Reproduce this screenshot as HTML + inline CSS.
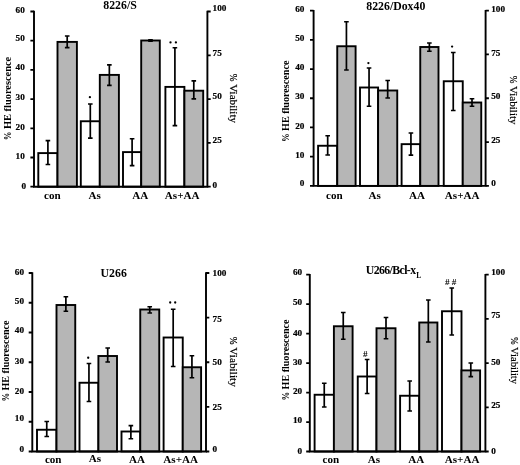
<!DOCTYPE html>
<html><head><meta charset="utf-8"><title>figure</title>
<style>html,body{margin:0;padding:0;background:#fff;}svg{display:block;}text{font-family:"Liberation Serif",serif;fill:#000;}.b{font-weight:bold;}</style></head><body>
<svg width="520" height="465" viewBox="0 0 520 465" style="filter:grayscale(1)">
<rect width="520" height="465" fill="#fff"/>
<g><rect x="38.3" y="153.1" width="19.20" height="33.60" fill="#fff" stroke="#000" stroke-width="1.9"/>
<rect x="57.5" y="41.9" width="19.40" height="144.80" fill="#b6b6b6" stroke="#000" stroke-width="1.9"/>
<rect x="80.8" y="121.25" width="19.00" height="65.45" fill="#fff" stroke="#000" stroke-width="1.9"/>
<rect x="99.8" y="74.9" width="19.10" height="111.80" fill="#b6b6b6" stroke="#000" stroke-width="1.9"/>
<rect x="123" y="152.1" width="18.20" height="34.60" fill="#fff" stroke="#000" stroke-width="1.9"/>
<rect x="141.2" y="40.5" width="18.60" height="146.20" fill="#b6b6b6" stroke="#000" stroke-width="1.9"/>
<rect x="165.4" y="86.9" width="19.00" height="99.80" fill="#fff" stroke="#000" stroke-width="1.9"/>
<rect x="184.4" y="90.7" width="18.80" height="96.00" fill="#b6b6b6" stroke="#000" stroke-width="1.9"/>
<path d="M47.90 140.6V164.5M45.60 140.6h4.6M45.60 164.5h4.6" stroke="#000" stroke-width="1.7" fill="none"/>
<path d="M67.20 36V47.6M64.90 36h4.6M64.90 47.6h4.6" stroke="#000" stroke-width="1.7" fill="none"/>
<path d="M90.30 104V138.1M88.00 104h4.6M88.00 138.1h4.6" stroke="#000" stroke-width="1.7" fill="none"/>
<path d="M109.35 64.9V85.4M107.05 64.9h4.6M107.05 85.4h4.6" stroke="#000" stroke-width="1.7" fill="none"/>
<path d="M132.10 138.75V165.6M129.80 138.75h4.6M129.80 165.6h4.6" stroke="#000" stroke-width="1.7" fill="none"/>
<path d="M150.50 39.9V41.1M148.20 39.9h4.6M148.20 41.1h4.6" stroke="#000" stroke-width="1.7" fill="none"/>
<path d="M174.90 47.75V125.6M172.60 47.75h4.6M172.60 125.6h4.6" stroke="#000" stroke-width="1.7" fill="none"/>
<path d="M193.80 80.9V98.9M191.50 80.9h4.6M191.50 98.9h4.6" stroke="#000" stroke-width="1.7" fill="none"/>
<path d="M34.0 10.8V186.7H207.4V10.8" stroke="#000" stroke-width="1.9" fill="none"/>
<path d="M34.0 11.50h-3.6M34.0 40.70h-3.6M34.0 69.90h-3.6M34.0 99.10h-3.6M34.0 128.30h-3.6M34.0 157.50h-3.6M34.0 186.70h-3.6M207.4 11.50h3.3M207.4 55.30h3.3M207.4 99.10h3.3M207.4 142.90h3.3M207.4 186.70h3.3" stroke="#000" stroke-width="1.8" fill="none"/>
<text class="b" x="24.8" y="12.80" font-size="9.2" stroke="#000" stroke-width="0.2" text-anchor="end">60</text>
<text class="b" x="24.8" y="41.00" font-size="9.2" stroke="#000" stroke-width="0.2" text-anchor="end">50</text>
<text class="b" x="24.8" y="70.40" font-size="9.2" stroke="#000" stroke-width="0.2" text-anchor="end">40</text>
<text class="b" x="24.8" y="99.60" font-size="9.2" stroke="#000" stroke-width="0.2" text-anchor="end">30</text>
<text class="b" x="24.8" y="129.60" font-size="9.2" stroke="#000" stroke-width="0.2" text-anchor="end">20</text>
<text class="b" x="24.8" y="159.00" font-size="9.2" stroke="#000" stroke-width="0.2" text-anchor="end">10</text>
<text class="b" x="26.2" y="189.10" font-size="9.2" stroke="#000" stroke-width="0.2" text-anchor="end">0</text>
<text class="b" x="212.6" y="10.80" font-size="9.2" stroke="#000" stroke-width="0.2">100</text>
<text class="b" x="212.6" y="56.30" font-size="9.2" stroke="#000" stroke-width="0.2">75</text>
<text class="b" x="212.6" y="98.70" font-size="9.2" stroke="#000" stroke-width="0.2">50</text>
<text class="b" x="212.6" y="143.00" font-size="9.2" stroke="#000" stroke-width="0.2">25</text>
<text class="b" x="212.6" y="188.40" font-size="9.2" stroke="#000" stroke-width="0.2">0</text>
<text class="b" x="52.4" y="198.75" font-size="11.1" text-anchor="middle">con</text>
<text class="b" x="94.7" y="198.75" font-size="11.1" text-anchor="middle">As</text>
<text class="b" x="140.3" y="198.75" font-size="11.1" text-anchor="middle">AA</text>
<text class="b" x="182.2" y="198.75" font-size="11.1" text-anchor="middle">As+AA</text>
<text class="b" x="120" y="9.3" font-size="11.8" text-anchor="middle">8226/S</text>
<text class="b" x="0" y="0" font-size="10.3" transform="translate(10.5 140.25) rotate(-90)"><tspan textLength="8.6" lengthAdjust="spacingAndGlyphs">%</tspan><tspan textLength="74.9" lengthAdjust="spacingAndGlyphs"> HE fluorescence</tspan></text>
<text x="0" y="0" font-size="11.2" stroke="#000" stroke-width="0.18" textLength="49.3" lengthAdjust="spacingAndGlyphs" transform="translate(229.85 73.85) rotate(90)"><tspan font-size="9.3">%</tspan> Viability</text>
<circle cx="89.9" cy="97.2" r="1.15" fill="#000"/>
<circle cx="170.5" cy="42.4" r="1.15" fill="#000"/>
<circle cx="175.9" cy="42.4" r="1.15" fill="#000"/></g>
<g><rect x="318.1" y="145.75" width="19.15" height="40.15" fill="#fff" stroke="#000" stroke-width="1.9"/>
<rect x="337.25" y="46.25" width="18.35" height="139.65" fill="#b6b6b6" stroke="#000" stroke-width="1.9"/>
<rect x="360" y="87.5" width="18.10" height="98.40" fill="#fff" stroke="#000" stroke-width="1.9"/>
<rect x="378.1" y="90.5" width="19.15" height="95.40" fill="#b6b6b6" stroke="#000" stroke-width="1.9"/>
<rect x="401.6" y="144.15" width="18.65" height="41.75" fill="#fff" stroke="#000" stroke-width="1.9"/>
<rect x="420.25" y="47" width="18.25" height="138.90" fill="#b6b6b6" stroke="#000" stroke-width="1.9"/>
<rect x="443.75" y="81.25" width="19.00" height="104.65" fill="#fff" stroke="#000" stroke-width="1.9"/>
<rect x="462.75" y="102.5" width="18.50" height="83.40" fill="#b6b6b6" stroke="#000" stroke-width="1.9"/>
<path d="M327.68 135.75V155M325.38 135.75h4.6M325.38 155h4.6" stroke="#000" stroke-width="1.7" fill="none"/>
<path d="M346.43 21.75V70M344.12 21.75h4.6M344.12 70h4.6" stroke="#000" stroke-width="1.7" fill="none"/>
<path d="M369.05 68V106.25M366.75 68h4.6M366.75 106.25h4.6" stroke="#000" stroke-width="1.7" fill="none"/>
<path d="M387.68 80.5V98M385.38 80.5h4.6M385.38 98h4.6" stroke="#000" stroke-width="1.7" fill="none"/>
<path d="M410.93 133V155.2M408.62 133h4.6M408.62 155.2h4.6" stroke="#000" stroke-width="1.7" fill="none"/>
<path d="M429.38 43V51.25M427.07 43h4.6M427.07 51.25h4.6" stroke="#000" stroke-width="1.7" fill="none"/>
<path d="M453.25 52.5V110.5M450.95 52.5h4.6M450.95 110.5h4.6" stroke="#000" stroke-width="1.7" fill="none"/>
<path d="M472.00 98.75V106.25M469.70 98.75h4.6M469.70 106.25h4.6" stroke="#000" stroke-width="1.7" fill="none"/>
<path d="M313.6 9.9V185.9H485.6V9.9" stroke="#000" stroke-width="1.9" fill="none"/>
<path d="M313.6 10.60h-3.6M313.6 39.82h-3.6M313.6 69.03h-3.6M313.6 98.25h-3.6M313.6 127.47h-3.6M313.6 156.68h-3.6M313.6 185.90h-3.6M485.6 10.60h3.3M485.6 54.43h3.3M485.6 98.25h3.3M485.6 142.08h3.3M485.6 185.90h3.3" stroke="#000" stroke-width="1.8" fill="none"/>
<text class="b" x="304.4" y="11.70" font-size="9.2" stroke="#000" stroke-width="0.2" text-anchor="end">60</text>
<text class="b" x="304.4" y="41.12" font-size="9.2" stroke="#000" stroke-width="0.2" text-anchor="end">50</text>
<text class="b" x="304.4" y="69.93" font-size="9.2" stroke="#000" stroke-width="0.2" text-anchor="end">40</text>
<text class="b" x="304.4" y="99.35" font-size="9.2" stroke="#000" stroke-width="0.2" text-anchor="end">30</text>
<text class="b" x="304.4" y="129.37" font-size="9.2" stroke="#000" stroke-width="0.2" text-anchor="end">20</text>
<text class="b" x="304.4" y="157.98" font-size="9.2" stroke="#000" stroke-width="0.2" text-anchor="end">10</text>
<text class="b" x="304.4" y="186.30" font-size="9.2" stroke="#000" stroke-width="0.2" text-anchor="end">0</text>
<text class="b" x="491.2" y="11.70" font-size="9.2" stroke="#000" stroke-width="0.2">100</text>
<text class="b" x="491.2" y="55.93" font-size="9.2" stroke="#000" stroke-width="0.2">75</text>
<text class="b" x="491.2" y="99.15" font-size="9.2" stroke="#000" stroke-width="0.2">50</text>
<text class="b" x="491.2" y="142.98" font-size="9.2" stroke="#000" stroke-width="0.2">25</text>
<text class="b" x="491.2" y="185.70" font-size="9.2" stroke="#000" stroke-width="0.2">0</text>
<text class="b" x="334.4" y="198.75" font-size="11.1" text-anchor="middle">con</text>
<text class="b" x="374.7" y="198.75" font-size="11.1" text-anchor="middle">As</text>
<text class="b" x="417.1" y="198.75" font-size="11.1" text-anchor="middle">AA</text>
<text class="b" x="462.2" y="198.75" font-size="11.1" text-anchor="middle">As+AA</text>
<text class="b" x="395.8" y="9.6" font-size="11.8" text-anchor="middle">8226/Dox40</text>
<text class="b" x="0" y="0" font-size="10.3" transform="translate(288.5 142.1) rotate(-90)"><tspan textLength="8.6" lengthAdjust="spacingAndGlyphs">%</tspan><tspan textLength="72.9" lengthAdjust="spacingAndGlyphs"> HE fluorescence</tspan></text>
<text x="0" y="0" font-size="11.2" stroke="#000" stroke-width="0.18" textLength="49" lengthAdjust="spacingAndGlyphs" transform="translate(510.4 75.65) rotate(90)"><tspan font-size="9.3">%</tspan> Viability</text>
<circle cx="368.4" cy="63.1" r="1.15" fill="#000"/>
<circle cx="452.1" cy="46.6" r="1.15" fill="#000"/></g>
<g><rect x="37" y="429.75" width="19.50" height="21.75" fill="#fff" stroke="#000" stroke-width="1.9"/>
<rect x="56.5" y="305" width="18.75" height="146.50" fill="#b6b6b6" stroke="#000" stroke-width="1.9"/>
<rect x="79.5" y="382.75" width="18.90" height="68.75" fill="#fff" stroke="#000" stroke-width="1.9"/>
<rect x="98.4" y="356" width="18.60" height="95.50" fill="#b6b6b6" stroke="#000" stroke-width="1.9"/>
<rect x="121.5" y="431.5" width="18.75" height="20.00" fill="#fff" stroke="#000" stroke-width="1.9"/>
<rect x="140.25" y="309.5" width="19.00" height="142.00" fill="#b6b6b6" stroke="#000" stroke-width="1.9"/>
<rect x="163.6" y="337.5" width="19.15" height="114.00" fill="#fff" stroke="#000" stroke-width="1.9"/>
<rect x="182.75" y="367.25" width="18.35" height="84.25" fill="#b6b6b6" stroke="#000" stroke-width="1.9"/>
<path d="M46.75 421.5V436.5M44.45 421.5h4.6M44.45 436.5h4.6" stroke="#000" stroke-width="1.7" fill="none"/>
<path d="M65.88 296.75V311.25M63.58 296.75h4.6M63.58 311.25h4.6" stroke="#000" stroke-width="1.7" fill="none"/>
<path d="M88.95 363.5V401.5M86.65 363.5h4.6M86.65 401.5h4.6" stroke="#000" stroke-width="1.7" fill="none"/>
<path d="M107.70 348V362M105.40 348h4.6M105.40 362h4.6" stroke="#000" stroke-width="1.7" fill="none"/>
<path d="M130.88 425.6V438.75M128.57 425.6h4.6M128.57 438.75h4.6" stroke="#000" stroke-width="1.7" fill="none"/>
<path d="M149.75 306.75V313M147.45 306.75h4.6M147.45 313h4.6" stroke="#000" stroke-width="1.7" fill="none"/>
<path d="M173.18 309.25V366.5M170.88 309.25h4.6M170.88 366.5h4.6" stroke="#000" stroke-width="1.7" fill="none"/>
<path d="M191.93 355.75V377.75M189.62 355.75h4.6M189.62 377.75h4.6" stroke="#000" stroke-width="1.7" fill="none"/>
<path d="M32.3 272.3V451.5H206.0V272.3" stroke="#000" stroke-width="1.9" fill="none"/>
<path d="M32.3 273.00h-3.6M32.3 302.75h-3.6M32.3 332.50h-3.6M32.3 362.25h-3.6M32.3 392.00h-3.6M32.3 421.75h-3.6M32.3 451.50h-3.6M206.0 273.00h3.3M206.0 317.62h3.3M206.0 362.25h3.3M206.0 406.88h3.3M206.0 451.50h3.3" stroke="#000" stroke-width="1.8" fill="none"/>
<text class="b" x="24.0" y="274.50" font-size="9.2" stroke="#000" stroke-width="0.2" text-anchor="end">60</text>
<text class="b" x="24.0" y="304.05" font-size="9.2" stroke="#000" stroke-width="0.2" text-anchor="end">50</text>
<text class="b" x="24.0" y="333.40" font-size="9.2" stroke="#000" stroke-width="0.2" text-anchor="end">40</text>
<text class="b" x="24.0" y="363.75" font-size="9.2" stroke="#000" stroke-width="0.2" text-anchor="end">30</text>
<text class="b" x="24.0" y="393.50" font-size="9.2" stroke="#000" stroke-width="0.2" text-anchor="end">20</text>
<text class="b" x="24.0" y="420.65" font-size="9.2" stroke="#000" stroke-width="0.2" text-anchor="end">10</text>
<text class="b" x="24.0" y="451.60" font-size="9.2" stroke="#000" stroke-width="0.2" text-anchor="end">0</text>
<text class="b" x="212.6" y="275.90" font-size="9.2" stroke="#000" stroke-width="0.2">100</text>
<text class="b" x="212.6" y="321.62" font-size="9.2" stroke="#000" stroke-width="0.2">75</text>
<text class="b" x="212.6" y="365.45" font-size="9.2" stroke="#000" stroke-width="0.2">50</text>
<text class="b" x="212.6" y="410.18" font-size="9.2" stroke="#000" stroke-width="0.2">25</text>
<text class="b" x="212.6" y="451.50" font-size="9.2" stroke="#000" stroke-width="0.2">0</text>
<text class="b" x="53.2" y="462.5" font-size="11.1" text-anchor="middle">con</text>
<text class="b" x="94.9" y="462.2" font-size="11.1" text-anchor="middle">As</text>
<text class="b" x="136.9" y="463.3" font-size="11.1" text-anchor="middle">AA</text>
<text class="b" x="180.7" y="463.3" font-size="11.1" text-anchor="middle">As+AA</text>
<text class="b" x="113.7" y="276.6" font-size="11.8" text-anchor="middle">U266</text>
<text class="b" x="0" y="0" font-size="10.2" transform="translate(8.6 401.6) rotate(-90)"><tspan textLength="8.6" lengthAdjust="spacingAndGlyphs">%</tspan><tspan textLength="72.4" lengthAdjust="spacingAndGlyphs"> HE fluorescence</tspan></text>
<text x="0" y="0" font-size="11.2" stroke="#000" stroke-width="0.18" textLength="50" lengthAdjust="spacingAndGlyphs" transform="translate(230.1 336.85) rotate(90)"><tspan font-size="9.3">%</tspan> Viability</text>
<circle cx="88.2" cy="357.75" r="1.15" fill="#000"/>
<circle cx="170.2" cy="302.5" r="1.15" fill="#000"/>
<circle cx="175.2" cy="302.5" r="1.15" fill="#000"/></g>
<g><rect x="314.6" y="394.75" width="19.30" height="56.75" fill="#fff" stroke="#000" stroke-width="1.9"/>
<rect x="333.9" y="326.25" width="18.70" height="125.25" fill="#b6b6b6" stroke="#000" stroke-width="1.9"/>
<rect x="357.75" y="376.5" width="18.75" height="75.00" fill="#fff" stroke="#000" stroke-width="1.9"/>
<rect x="376.5" y="328.25" width="19.00" height="123.25" fill="#b6b6b6" stroke="#000" stroke-width="1.9"/>
<rect x="400.1" y="395.75" width="19.15" height="55.75" fill="#fff" stroke="#000" stroke-width="1.9"/>
<rect x="419.25" y="322.5" width="18.15" height="129.00" fill="#b6b6b6" stroke="#000" stroke-width="1.9"/>
<rect x="442" y="311.25" width="19.50" height="140.25" fill="#fff" stroke="#000" stroke-width="1.9"/>
<rect x="461.5" y="370.4" width="18.60" height="81.10" fill="#b6b6b6" stroke="#000" stroke-width="1.9"/>
<path d="M324.25 383.25V407M321.95 383.25h4.6M321.95 407h4.6" stroke="#000" stroke-width="1.7" fill="none"/>
<path d="M343.25 312.5V339.25M340.95 312.5h4.6M340.95 339.25h4.6" stroke="#000" stroke-width="1.7" fill="none"/>
<path d="M367.12 359.5V393.5M364.82 359.5h4.6M364.82 393.5h4.6" stroke="#000" stroke-width="1.7" fill="none"/>
<path d="M386.00 317.5V338.75M383.70 317.5h4.6M383.70 338.75h4.6" stroke="#000" stroke-width="1.7" fill="none"/>
<path d="M409.68 381V411M407.38 381h4.6M407.38 411h4.6" stroke="#000" stroke-width="1.7" fill="none"/>
<path d="M428.32 300V342M426.02 300h4.6M426.02 342h4.6" stroke="#000" stroke-width="1.7" fill="none"/>
<path d="M451.75 288V335M449.45 288h4.6M449.45 335h4.6" stroke="#000" stroke-width="1.7" fill="none"/>
<path d="M470.80 363V376.7M468.50 363h4.6M468.50 376.7h4.6" stroke="#000" stroke-width="1.7" fill="none"/>
<path d="M309.8 274.0V451.5H485.4V274.0" stroke="#000" stroke-width="1.9" fill="none"/>
<path d="M309.8 274.70h-3.6M309.8 304.17h-3.6M309.8 333.63h-3.6M309.8 363.10h-3.6M309.8 392.57h-3.6M309.8 422.03h-3.6M309.8 451.50h-3.6M485.4 274.70h3.3M485.4 318.90h3.3M485.4 363.10h3.3M485.4 407.30h3.3M485.4 451.50h3.3" stroke="#000" stroke-width="1.8" fill="none"/>
<text class="b" x="302.2" y="275.20" font-size="9.2" stroke="#000" stroke-width="0.2" text-anchor="end">60</text>
<text class="b" x="302.2" y="304.67" font-size="9.2" stroke="#000" stroke-width="0.2" text-anchor="end">50</text>
<text class="b" x="302.2" y="335.53" font-size="9.2" stroke="#000" stroke-width="0.2" text-anchor="end">40</text>
<text class="b" x="302.2" y="365.30" font-size="9.2" stroke="#000" stroke-width="0.2" text-anchor="end">30</text>
<text class="b" x="302.2" y="393.57" font-size="9.2" stroke="#000" stroke-width="0.2" text-anchor="end">20</text>
<text class="b" x="302.2" y="423.03" font-size="9.2" stroke="#000" stroke-width="0.2" text-anchor="end">10</text>
<text class="b" x="302.2" y="453.80" font-size="9.2" stroke="#000" stroke-width="0.2" text-anchor="end">0</text>
<text class="b" x="491.2" y="275.10" font-size="9.2" stroke="#000" stroke-width="0.2">100</text>
<text class="b" x="491.2" y="318.30" font-size="9.2" stroke="#000" stroke-width="0.2">75</text>
<text class="b" x="491.2" y="364.60" font-size="9.2" stroke="#000" stroke-width="0.2">50</text>
<text class="b" x="491.2" y="407.80" font-size="9.2" stroke="#000" stroke-width="0.2">25</text>
<text class="b" x="491.2" y="453.80" font-size="9.2" stroke="#000" stroke-width="0.2">0</text>
<text class="b" x="330.8" y="463.1" font-size="11.1" text-anchor="middle">con</text>
<text class="b" x="373.8" y="463.1" font-size="11.1" text-anchor="middle">As</text>
<text class="b" x="416.25" y="463.1" font-size="11.1" text-anchor="middle">AA</text>
<text class="b" x="462.1" y="463.1" font-size="11.1" text-anchor="middle">As+AA</text>
<text class="b" x="365.8" y="274.2" font-size="11.8" letter-spacing="-0.6">U266/Bcl-x<tspan font-size="7.5" dy="4" dx="0.8">L</tspan></text>
<text class="b" x="0" y="0" font-size="10.2" transform="translate(289.4 400.5) rotate(-90)"><tspan textLength="8.6" lengthAdjust="spacingAndGlyphs">%</tspan><tspan textLength="72.4" lengthAdjust="spacingAndGlyphs"> HE fluorescence</tspan></text>
<text x="0" y="0" font-size="11.2" stroke="#000" stroke-width="0.18" textLength="47" lengthAdjust="spacingAndGlyphs" transform="translate(511.3 337.15) rotate(90)"><tspan font-size="9.3">%</tspan> Viability</text>
<text class="b" x="365.3" y="356.6" font-size="9.2" text-anchor="middle">#</text>
<text class="b" x="447.4" y="285.4" font-size="9.2" text-anchor="middle">#</text>
<text class="b" x="454" y="285.4" font-size="9.2" text-anchor="middle">#</text></g>
</svg></body></html>
